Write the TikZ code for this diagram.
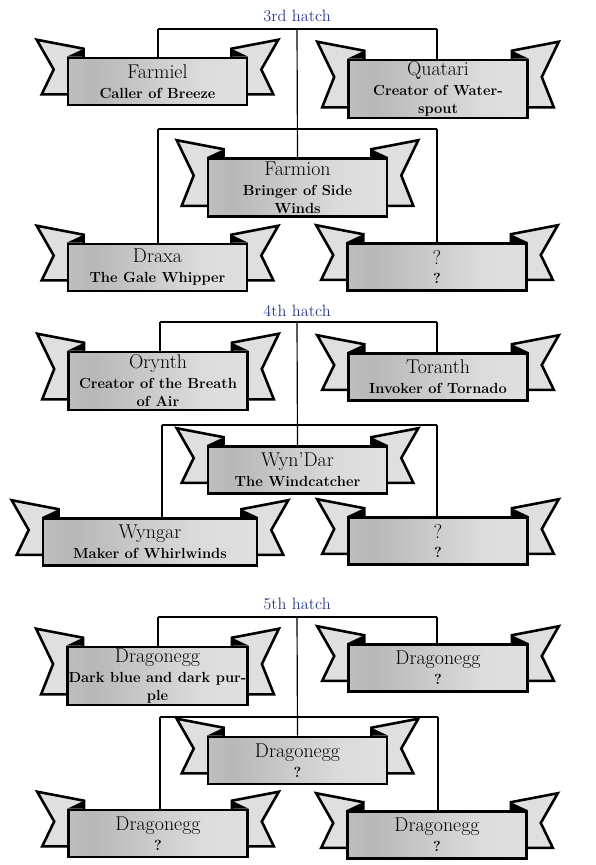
\documentclass[tikz,border=0pt]{standalone}
\usetikzlibrary{calc,backgrounds}
\definecolor{hatchblue}{RGB}{42,56,140}
\pgfdeclarehorizontalshading{bannershade}{100bp}{color(0bp)=(gray!32); color(32bp)=(gray!56); color(62bp)=(gray!28); color(100bp)=(gray!18)}
\tikzset{
  banner/.style={draw, line width=2.2pt, minimum width=5.37cm, minimum height=1.41cm,
    inner sep=1pt, align=center, shading=bannershade, font=\fontsize{12.5}{15.5}\selectfont},
  tall/.style={minimum height=1.74cm},
  wide/.style={minimum width=6.42cm},
  tail/.style={draw, line width=2.2pt, fill=gray!25, line join=miter},
  fold/.style={fill=black},
  link/.style={line width=1pt},
  hatch/.style={text=hatchblue, font=\fontsize{14}{16}\selectfont}
}
\newcommand{\bname}[1]{{\fontsize{17}{18}\selectfont #1}\\[1.5pt]}
\newcommand{\bsub}[1]{{\bfseries #1}}
\newcommand{\tails}[1]{%
  \begin{pgfonlayer}{background}
    \draw[tail] ($(#1.north west)+(-30,-17)$) -- ($(#1.north west)+(17,-8)$)
      -- ($(#1.south west)+(17,-12)$) -- ($(#1.south west)+(-25,-12)$)
      -- ($(#1.north west)!0.5!(#1.south west)+(-13,-12)$) -- cycle;
    \draw[tail] ($(#1.north east)+(30,-17)$) -- ($(#1.north east)+(-17,-8)$)
      -- ($(#1.south east)+(-17,-12)$) -- ($(#1.south east)+(25,-12)$)
      -- ($(#1.north east)!0.5!(#1.south east)+(13,-12)$) -- cycle;
    \fill[fold] (#1.north west) -- ($(#1.north west)+(17,-8)$) -- ($(#1.north west)+(17,0)$) -- cycle;
    \fill[fold] (#1.north east) -- ($(#1.north east)+(-17,-8)$) -- ($(#1.north east)+(-17,0)$) -- cycle;
  \end{pgfonlayer}}

\begin{document}
\begin{tikzpicture}[x=0.03cm, y=-0.03cm]
	\useasboundingbox (0,0) rectangle (596,865);

	\node (t3) at (297,16) [hatch] {3rd hatch};
	\coordinate (a3l) at (158,29);
	\coordinate (a3c) at (297,29);
	\coordinate (a3r) at (437,29);
	\coordinate (b3l) at (158,129);
	\coordinate (b3r) at (437,129);

	\node (farmiel) at (157.5,81.5) [banner] {\bname{Farmiel}\bsub{Caller of Breeze}};
	\node (quatari) at (438,89) [banner, tall] {\bname{Quatari}\bsub{Creator of Water-}\\\bsub{spout}};
	\node (farmion) at (297.5,187.5) [banner, tall] {\bname{Farmion}\bsub{Bringer of Side}\\\bsub{Winds}};
	\node (draxa) at (157.5,267.5) [banner] {\bname{Draxa}\bsub{The Gale Whipper}};
	\node (unk3) at (437,267) [banner] {\bname{?}\bsub{?}};
	\tails{farmiel}
	\tails{quatari}
	\tails{farmion}
	\tails{draxa}
	\tails{unk3}

	\draw[link] (a3l) -- (a3r);
	\draw[link] (a3l) -- (a3l |- farmiel.north);
	\draw[link] (a3r) -- (a3r |- quatari.north);
	\draw[link] (a3c) -- (farmion.north);
	\draw[link] (b3l) -- (b3r);
	\draw[link] (b3l) -- (b3l |- draxa.north);
	\draw[link] (b3r) -- (b3r |- unk3.north);

	\node (t4) at (297,311) [hatch] {4th hatch};
	\coordinate (a4l) at (160,322);
	\coordinate (a4c) at (297,322);
	\coordinate (a4r) at (437,322);
	\coordinate (b4l) at (162,425);
	\coordinate (b4r) at (437,425);

	\node (orynth) at (158,381) [banner, tall] {\bname{Orynth}\bsub{Creator of the Breath}\\\bsub{of Air}};
	\node (toranth) at (438,377) [banner] {\bname{Toranth}\bsub{Invoker of Tornado}};
	\node (wyndar) at (297.5,470) [banner] {\bname{Wyn'Dar}\bsub{The Windcatcher}};
	\node (wyngar) at (150,542) [banner, wide] {\bname{Wyngar}\bsub{Maker of Whirlwinds}};
	\node (unk4) at (438,541) [banner] {\bname{?}\bsub{?}};
	\tails{orynth}
	\tails{toranth}
	\tails{wyndar}
	\tails{wyngar}
	\tails{unk4}

	\draw[link] (a4l) -- (a4r);
	\draw[link] (a4l) -- (a4l |- orynth.north);
	\draw[link] (a4r) -- (a4r |- toranth.north);
	\draw[link] (a4c) -- (wyndar.north);
	\draw[link] (b4l) -- (b4r);
	\draw[link] (b4l) -- (b4l |- wyngar.north);
	\draw[link] (b4r) -- (b4r |- unk4.north);

	\node (t5) at (297,604) [hatch] {5th hatch};
	\coordinate (a5l) at (158,617);
	\coordinate (a5c) at (297,617);
	\coordinate (a5r) at (437,617);
	\coordinate (b5l) at (160,717);
	\coordinate (b5r) at (438,717);

	\node (egga) at (157.5,676) [banner, tall] {\bname{Dragonegg}\bsub{Dark blue and dark pur-}\\\bsub{ple}};
	\node (eggb) at (438,668) [banner] {\bname{Dragonegg}\bsub{?}};
	\node (eggc) at (297.5,760.5) [banner] {\bname{Dragonegg}\bsub{?}};
	\node (eggd) at (158,833.5) [banner] {\bname{Dragonegg}\bsub{?}};
	\node (egge) at (437,835) [banner] {\bname{Dragonegg}\bsub{?}};
	\tails{egga}
	\tails{eggb}
	\tails{eggc}
	\tails{eggd}
	\tails{egge}

	\draw[link] (a5l) -- (a5r);
	\draw[link] (a5l) -- (a5l |- egga.north);
	\draw[link] (a5r) -- (a5r |- eggb.north);
	\draw[link] (a5c) -- (eggc.north);
	\draw[link] (b5l) -- (b5r);
	\draw[link] (b5l) -- (b5l |- eggd.north);
	\draw[link] (b5r) -- (b5r |- egge.north);
\end{tikzpicture}
\end{document}
